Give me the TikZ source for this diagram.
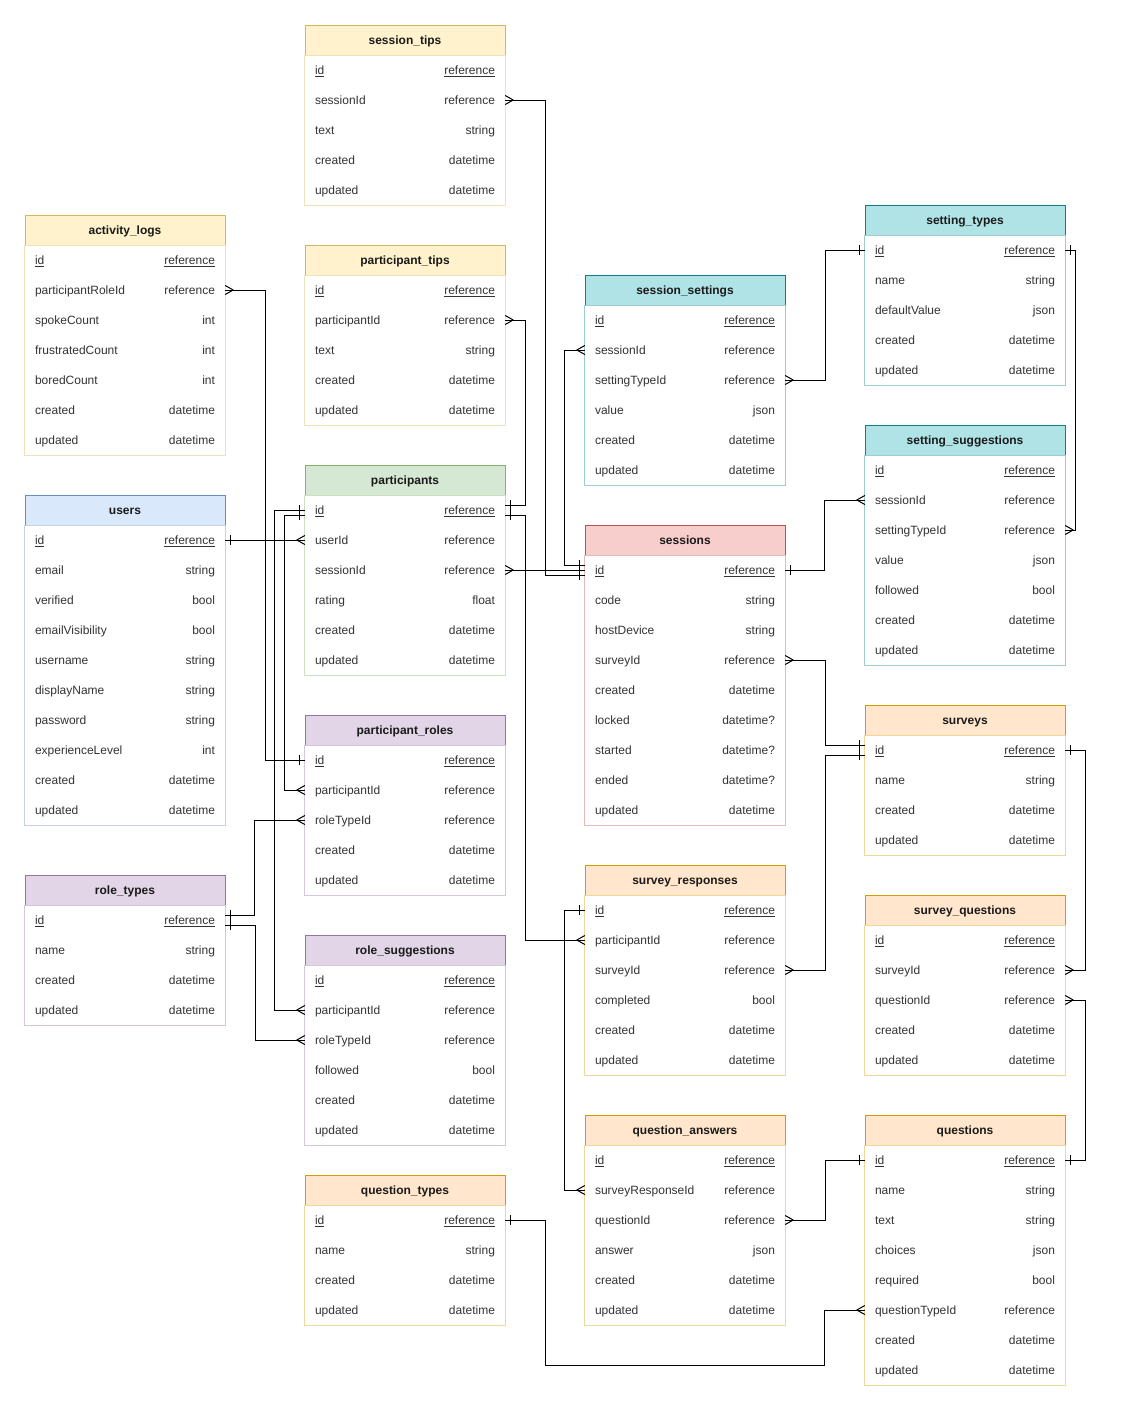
\documentclass[tikz,border=0pt]{standalone}
\usepackage{fontspec}
\setmainfont{Liberation Sans}
\usetikzlibrary{calc}

% table colour themes (fill / stroke)
\definecolor{yfill}{HTML}{FFF2CC}\definecolor{yline}{HTML}{D6B656}
\definecolor{bfill}{HTML}{DAE8FC}\definecolor{bline}{HTML}{6C8EBF}
\definecolor{gfill}{HTML}{D5E8D4}\definecolor{gline}{HTML}{82B366}
\definecolor{pfill}{HTML}{E1D5E7}\definecolor{pline}{HTML}{9673A6}
\definecolor{rfill}{HTML}{F8CECC}\definecolor{rline}{HTML}{B85450}
\definecolor{ofill}{HTML}{FFE6CC}\definecolor{oline}{HTML}{D79B00}
\definecolor{tfill}{HTML}{B0E3E6}\definecolor{tline}{HTML}{0E8088}
\definecolor{headtext}{HTML}{1A1A1A}
\definecolor{rowtext}{HTML}{333333}

% crow's foot: "many" end
\pgfdeclarearrow{
  name = ermany,
  parameters = {\the\pgflinewidth},
  setup code = {
    \pgfarrowssettipend{0pt}
    \pgfarrowssetlineend{0pt}
    \pgfarrowssetbackend{-8pt}
    \pgfarrowshullpoint{0pt}{4.5pt}
    \pgfarrowshullpoint{0pt}{-4.5pt}
    \pgfarrowshullpoint{-8pt}{0pt}
  },
  drawing code = {
    \pgfsetdash{}{0pt}
    \pgfsetroundjoin
    \pgfpathmoveto{\pgfqpoint{0pt}{4.5pt}}
    \pgfpathlineto{\pgfqpoint{-8pt}{0pt}}
    \pgfpathlineto{\pgfqpoint{0pt}{-4.5pt}}
    \pgfusepathqstroke
  }
}
% single bar: "one" end
\pgfdeclarearrow{
  name = erone,
  parameters = {\the\pgflinewidth},
  setup code = {
    \pgfarrowssettipend{0pt}
    \pgfarrowssetlineend{0pt}
    \pgfarrowssetbackend{-5pt}
    \pgfarrowshullpoint{-5pt}{5pt}
    \pgfarrowshullpoint{-5pt}{-5pt}
    \pgfarrowshullpoint{0pt}{0pt}
  },
  drawing code = {
    \pgfsetdash{}{0pt}
    \pgfpathmoveto{\pgfqpoint{-5pt}{5pt}}
    \pgfpathlineto{\pgfqpoint{-5pt}{-5pt}}
    \pgfusepathqstroke
  }
}

\tikzset{
  headcell/.style={rectangle, minimum width=200pt, minimum height=30pt, inner sep=0pt,
    line width=1pt, text=headtext, text height=10pt, text depth=1.5pt,
    font=\fontsize{12}{14}\selectfont\bfseries},
  rowcell/.style={rectangle, minimum width=200pt, minimum height=30pt, inner sep=0pt},
  fieldtext/.style={inner sep=0pt, text=rowtext, text height=10pt, text depth=1.5pt,
    font=\fontsize{12}{14}\selectfont},
  rel/.style={line width=1pt, black}
}

% #1 prefix, #2 left, #3 top, #4 fill, #5 stroke, #6 title, #7 field/type rows
\newcommand\ertable[7]{%
  \node[headcell, fill=#4, draw=#5] (#1-0) at ({#2+100},{#3+15}) {#6};
  \foreach \fld/\typ [count=\k] in {#7} {
    \node[rowcell] (#1-\k) at ({#2+100},{#3+15+30*\k}) {};
    \ifnum\k=1\relax
      \node[fieldtext, anchor=west] (#1-\k-f) at ([xshift=10pt]#1-\k.west) {\underline{\fld}};
      \node[fieldtext, anchor=east] (#1-\k-t) at ([xshift=-10pt]#1-\k.east) {\underline{\typ}};
    \else
      \node[fieldtext, anchor=west] (#1-\k-f) at ([xshift=10pt]#1-\k.west) {\fld};
      \node[fieldtext, anchor=east] (#1-\k-t) at ([xshift=-10pt]#1-\k.east) {\typ};
    \fi
    \xdef\ernrows{\k}
  }
  \draw[#5!40!white, line width=1pt] (#1-0.south west) rectangle (#1-\ernrows.south east);
}

\begin{document}
\begin{tikzpicture}[x=1pt, y=-1pt]
\useasboundingbox[fill=white] (0,0) rectangle (1121,1411);

\ertable{st}{305}{25}{yfill}{yline}{session\_tips}{id/reference, sessionId/reference, text/string, created/datetime, updated/datetime}
\ertable{al}{25}{215}{yfill}{yline}{activity\_logs}{id/reference, participantRoleId/reference, spokeCount/int, frustratedCount/int, boredCount/int, created/datetime, updated/datetime}
\ertable{pt}{305}{245}{yfill}{yline}{participant\_tips}{id/reference, participantId/reference, text/string, created/datetime, updated/datetime}
\ertable{ss}{585}{275}{tfill}{tline}{session\_settings}{id/reference, sessionId/reference, settingTypeId/reference, value/json, created/datetime, updated/datetime}
\ertable{sty}{865}{205}{tfill}{tline}{setting\_types}{id/reference, name/string, defaultValue/json, created/datetime, updated/datetime}
\ertable{sg}{865}{425}{tfill}{tline}{setting\_suggestions}{id/reference, sessionId/reference, settingTypeId/reference, value/json, followed/bool, created/datetime, updated/datetime}
\ertable{pa}{305}{465}{gfill}{gline}{participants}{id/reference, userId/reference, sessionId/reference, rating/float, created/datetime, updated/datetime}
\ertable{us}{25}{495}{bfill}{bline}{users}{id/reference, email/string, verified/bool, emailVisibility/bool, username/string, displayName/string, password/string, experienceLevel/int, created/datetime, updated/datetime}
\ertable{se}{585}{525}{rfill}{rline}{sessions}{id/reference, code/string, hostDevice/string, surveyId/reference, created/datetime, locked/datetime?, started/datetime?, ended/datetime?, updated/datetime}
\ertable{sv}{865}{705}{ofill}{oline}{surveys}{id/reference, name/string, created/datetime, updated/datetime}
\ertable{pr}{305}{715}{pfill}{pline}{participant\_roles}{id/reference, participantId/reference, roleTypeId/reference, created/datetime, updated/datetime}
\ertable{rt}{25}{875}{pfill}{pline}{role\_types}{id/reference, name/string, created/datetime, updated/datetime}
\ertable{sr}{585}{865}{ofill}{oline}{survey\_responses}{id/reference, participantId/reference, surveyId/reference, completed/bool, created/datetime, updated/datetime}
\ertable{sq}{865}{895}{ofill}{oline}{survey\_questions}{id/reference, surveyId/reference, questionId/reference, created/datetime, updated/datetime}
\ertable{rs}{305}{935}{pfill}{pline}{role\_suggestions}{id/reference, participantId/reference, roleTypeId/reference, followed/bool, created/datetime, updated/datetime}
\ertable{qa}{585}{1115}{ofill}{oline}{question\_answers}{id/reference, surveyResponseId/reference, questionId/reference, answer/json, created/datetime, updated/datetime}
\ertable{qu}{865}{1115}{ofill}{oline}{questions}{id/reference, name/string, text/string, choices/json, required/bool, questionTypeId/reference, created/datetime, updated/datetime}
\ertable{qt}{305}{1175}{ofill}{oline}{question\_types}{id/reference, name/string, created/datetime, updated/datetime}

% relationships
\draw[rel, ermany-erone] (st-2.east) -- ++(40,0) |- ([yshift=-5pt]se-1.west);
\draw[rel, ermany-erone] (al-2.east) -- ++(40,0) |- (pr-1.west);
\draw[rel, ermany-erone] (pt-2.east) -- ++(20,0) |- ([yshift=5pt]pa-1.east);
\draw[rel, erone-ermany] (us-1.east) -- (pa-2.west);
\draw[rel, erone-ermany] ([yshift=-5pt]pa-1.east) -- ++(20,0) |- (sr-2.west);
\draw[rel, ermany-erone] (pa-3.east) -- (se-1.west);
\draw[rel, erone-ermany] ([yshift=-5pt]pa-1.west) -- ++(-20,0) |- (pr-2.west);
\draw[rel, erone-ermany] (pa-1.west) -- ++(-30,0) |- (rs-2.west);
\draw[rel, ermany-erone] (ss-2.west) -- ++(-20,0) |- ([yshift=5pt]se-1.west);
\draw[rel, ermany-erone] (ss-3.east) -- ++(40,0) |- (sty-1.west);
\draw[rel, erone-ermany] (sty-1.east) -- ++(10,0) |- (sg-3.east);
\draw[rel, ermany-erone] (sg-2.west) -- ++(-40,0) |- (se-1.east);
\draw[rel, ermany-erone] (se-4.east) -- ++(40,0) |- ([yshift=5pt]sv-1.west);
\draw[rel, ermany-erone] (sr-3.east) -- ++(40,0) |- ([yshift=-5pt]sv-1.west);
\draw[rel, erone-ermany] (sr-1.west) -- ++(-20,0) |- (qa-2.west);
\draw[rel, erone-ermany] (sv-1.east) -- ++(20,0) |- (sq-2.east);
\draw[rel, ermany-erone] (sq-3.east) -- ++(20,0) |- (qu-1.east);
\draw[rel, ermany-erone] (qa-3.east) -- ++(40,0) |- (qu-1.west);
\draw[rel, erone-ermany] (qt-1.east) -- ++(40,0) -- ++(0,145) -| ([xshift=-40pt]qu-6.west) -- (qu-6.west);
\draw[rel, ermany-erone] (pr-3.west) -- ++(-50,0) |- ([yshift=5pt]rt-1.east);
\draw[rel, erone-ermany] ([yshift=-5pt]rt-1.east) -- ++(30,0) |- (rs-3.west);
\end{tikzpicture}
\end{document}
